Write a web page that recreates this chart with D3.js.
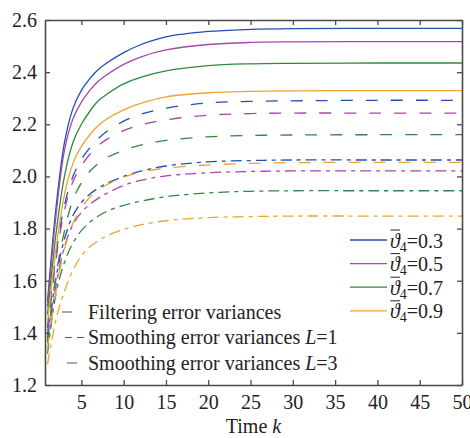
<!DOCTYPE html>
<html>
<head>
<meta charset="utf-8">
<script src="https://cdn.jsdelivr.net/npm/d3@7"></script>
<style>
    body { margin: 0; background: #fff; }
</style>
</head>
<body>
<div id="chart"></div>
<script>

// time steps
let steps = [1, 2, 3, 4, 5, 6, 7, 8, 10, 12, 15, 20, 25, 30, 40, 50];

// filtering error variances
let filt03 = [1.52, 1.88, 2.13, 2.26, 2.33, 2.375, 2.41, 2.435, 2.475, 2.505, 2.535, 2.556, 2.564, 2.567, 2.568, 2.568];
let filt05 = [1.50, 1.85, 2.10, 2.22, 2.285, 2.33, 2.365, 2.39, 2.43, 2.458, 2.485, 2.506, 2.514, 2.516, 2.517, 2.517];
let filt07 = [1.47, 1.78, 2.00, 2.13, 2.20, 2.25, 2.29, 2.315, 2.355, 2.38, 2.405, 2.425, 2.432, 2.434, 2.435, 2.435];
let filt09 = [1.44, 1.72, 1.93, 2.05, 2.115, 2.16, 2.195, 2.22, 2.255, 2.28, 2.305, 2.321, 2.326, 2.328, 2.329, 2.329];

// smoothing error variances L=1
let smoothL1_03 = [1.42, 1.70, 1.89, 2.00, 2.065, 2.11, 2.145, 2.172, 2.212, 2.238, 2.262, 2.282, 2.288, 2.290, 2.292, 2.292];
let smoothL1_05 = [1.40, 1.68, 1.87, 1.98, 2.04, 2.085, 2.118, 2.142, 2.176, 2.197, 2.217, 2.235, 2.241, 2.243, 2.243, 2.243];
let smoothL1_07 = [1.37, 1.62, 1.79, 1.91, 1.975, 2.02, 2.05, 2.072, 2.10, 2.12, 2.138, 2.152, 2.157, 2.159, 2.160, 2.160];
let smoothL1_09 = [1.34, 1.56, 1.72, 1.82, 1.88, 1.92, 1.948, 1.968, 1.997, 2.016, 2.032, 2.044, 2.05, 2.053, 2.054, 2.054];

// smoothing error variances L=3
let smoothL3_03 = [1.38, 1.61, 1.76, 1.85, 1.90, 1.932, 1.955, 1.973, 2.00, 2.02, 2.04, 2.056, 2.061, 2.063, 2.063, 2.063];
let smoothL3_05 = [1.36, 1.58, 1.73, 1.815, 1.862, 1.893, 1.916, 1.935, 1.965, 1.985, 2.002, 2.014, 2.019, 2.021, 2.021, 2.021];
let smoothL3_07 = [1.32, 1.55, 1.67, 1.745, 1.792, 1.824, 1.848, 1.866, 1.889, 1.905, 1.922, 1.937, 1.943, 1.945, 1.945, 1.945];
let smoothL3_09 = [1.28, 1.45, 1.56, 1.64, 1.695, 1.73, 1.754, 1.772, 1.797, 1.814, 1.83, 1.842, 1.846, 1.848, 1.848, 1.848];

let thetaValues = ["0.3", "0.5", "0.7", "0.9"];
let kindLabels = ["Filtering error variances", "Smoothing error variances ", "Smoothing error variances "];
let kindL = [null, "1", "3"];
let xTicks = [5, 10, 15, 20, 25, 30, 35, 40, 45, 50];
let yTicks = [1.2, 1.4, 1.6, 1.8, 2.0, 2.2, 2.4, 2.6];

// styles
let serif = "'Liberation Serif', 'Times New Roman', Times, 'DejaVu Serif', serif";
let colors = ["#2050b4", "#a448aa", "#2f8a3d", "#eea431"];
let dashes = [null, "12,13", "11,5,4,5"];

let series = [
    [filt03, filt05, filt07, filt09],
    [smoothL1_03, smoothL1_05, smoothL1_07, smoothL1_09],
    [smoothL3_03, smoothL3_05, smoothL3_07, smoothL3_09]
];

let W = 470, H = 438;
let margin = {top: 20, right: 8, bottom: 53, left: 45};

let svg = d3.select("#chart").append("svg")
    .attr("width", W)
    .attr("height", H)
    .style("font-family", serif);

let x = d3.scaleLinear().domain([0.7, 50]).range([margin.left, W - margin.right]);
let y = d3.scaleLinear().domain([1.2, 2.6]).range([H - margin.bottom, margin.top]);

let axisColor = "#4a4a4a";

// curves (draw L=3, L=1 then filtering on top)
let line = d3.line()
    .x((d, i) => x(steps[i]))
    .y(d => y(d))
    .curve(d3.curveCatmullRom.alpha(0.5));

[2, 1, 0].forEach(kind => {
    series[kind].forEach((vals, c) => {
        svg.append("path")
            .attr("d", line(vals))
            .attr("fill", "none")
            .attr("stroke", colors[c])
            .attr("stroke-width", 1.3)
            .attr("stroke-dasharray", dashes[kind]);
    });
});

// axes: inward ticks, mirrored on top and right
let tickLen = 5;
let styleText = g => g.style("font-family", serif)
    .selectAll("text").attr("font-size", 20).attr("fill", "#222").style("font-family", serif);

svg.append("g")
    .attr("transform", `translate(0,${y(1.2)})`)
    .call(d3.axisBottom(x).tickValues(xTicks).tickSizeInner(-tickLen).tickSizeOuter(0).tickPadding(10))
    .call(styleText);
svg.append("g")
    .attr("transform", `translate(0,${y(2.6)})`)
    .call(d3.axisTop(x).tickValues(xTicks).tickSizeInner(-tickLen).tickSizeOuter(0).tickFormat(""));
svg.append("g")
    .attr("transform", `translate(${x(0.7)},0)`)
    .call(d3.axisLeft(y).tickValues(yTicks).tickSizeInner(-tickLen).tickSizeOuter(0).tickPadding(8).tickFormat(d3.format(".1f")))
    .call(styleText);
svg.append("g")
    .attr("transform", `translate(${x(50)},0)`)
    .call(d3.axisRight(y).tickValues(yTicks).tickSizeInner(-tickLen).tickSizeOuter(0).tickFormat(""));

svg.selectAll(".domain").attr("stroke", axisColor).attr("stroke-width", 1.6);
svg.selectAll(".tick line").attr("stroke", axisColor).attr("stroke-width", 1.3);

// x label
let xl = svg.append("text")
    .attr("x", (x(0.7) + x(50)) / 2)
    .attr("y", 433)
    .attr("text-anchor", "middle")
    .attr("font-size", 20)
    .attr("fill", "#222");
xl.append("tspan").text("Time ");
xl.append("tspan").attr("font-style", "italic").text("k");

// right legend
thetaValues.forEach((v, i) => {
    let ly = 240 + i * 23.6;
    svg.append("line")
        .attr("x1", 350).attr("x2", 387)
        .attr("y1", ly).attr("y2", ly)
        .attr("stroke", colors[i])
        .attr("stroke-width", 1.3);
    let t = svg.append("text")
        .attr("x", 390)
        .attr("y", ly + 7.5)
        .attr("font-size", 20)
        .attr("fill", "#222");
    t.append("tspan").attr("font-style", "italic").text("\u03D1");
    t.append("tspan").attr("font-size", 14).attr("dy", 4).text("4");
    t.append("tspan").attr("dy", -4).text("=" + v);
    svg.append("line")
        .attr("x1", 390.5).attr("x2", 400)
        .attr("y1", ly - 10).attr("y2", ly - 10)
        .attr("stroke", "#222")
        .attr("stroke-width", 1);
});

// line style legend
let sampleDash = [null, "7,5", "10,3,1.5,10"];
let sampleX = [[62, 72], [65, 86], [67, 80]];
kindLabels.forEach((lab, i) => {
    let by = 318.5 + i * 25.5;
    svg.append("line")
        .attr("x1", sampleX[i][0]).attr("x2", sampleX[i][1])
        .attr("y1", by - 6.5).attr("y2", by - 6.5)
        .attr("stroke", "#555")
        .attr("stroke-width", 1)
        .attr("stroke-dasharray", sampleDash[i]);
    let t = svg.append("text")
        .attr("x", 88)
        .attr("y", by)
        .attr("font-size", 20)
        .attr("fill", "#222");
    t.append("tspan").text(lab);
    if (kindL[i]) {
        t.append("tspan").attr("font-style", "italic").text("L");
        t.append("tspan").text("=" + kindL[i]);
    }
});

</script>
</body>
</html>
